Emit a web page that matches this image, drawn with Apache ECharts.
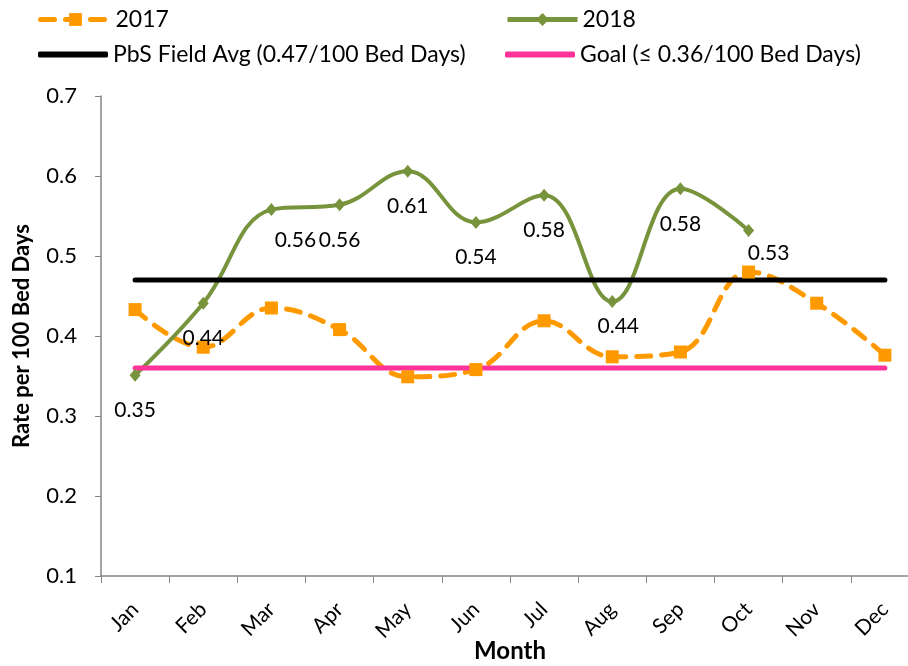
<!DOCTYPE html>
<html>
<head>
<meta charset="utf-8">
<title>Rate per 100 Bed Days</title>
<script src="https://cdn.jsdelivr.net/npm/echarts@6/dist/echarts.min.js"></script>
<style>
  html, body { margin: 0; padding: 0; background: #fff; }
  #chart { width: 908px; height: 666px; }
</style>
</head>
<body>
<div id="chart"></div>
<script>
const months = ['Jan', 'Feb', 'Mar', 'Apr', 'May', 'Jun', 'Jul', 'Aug', 'Sep', 'Oct', 'Nov', 'Dec']
const rate2017 = [0.433, 0.386, 0.435, 0.408, 0.349, 0.358, 0.419, 0.374, 0.38, 0.48, 0.441, 0.376]
const rate2018 = [0.351, 0.441, 0.558, 0.564, 0.606, 0.542, 0.576, 0.443, 0.584, 0.532]
const fieldAvg = 0.47
const goal = 0.36
const yTicks = [0.1, 0.2, 0.3, 0.4, 0.5, 0.6, 0.7]

// label nudges for the 2018 values (Excel placed a few by hand)
const labelNudge = [[0, 0], [0, 0], [24, -4], [0, 0], [0, 0], [0, 0], [0, 0], [6, -10], [0, 0], [20, -12]]

const FONT = 'Lato'
const chart = echarts.init(document.getElementById('chart'))

const legendBase = {
  itemWidth: 70,
  itemHeight: 16,
  itemGap: 6,
  lineStyle: { width: 5 },
  textStyle: { fontFamily: FONT, fontSize: 23, color: '#000' }
}

const option = {
  animation: false,
  textStyle: { fontFamily: FONT },
  legend: [
    { ...legendBase, data: ['2017'], left: 33, top: 3 },
    { ...legendBase, data: ['2018'], left: 500, top: 3 },
    { ...legendBase, data: [{ name: 'PbS Field Avg (0.47/100 Bed Days)', icon: 'roundRect' }], itemHeight: 6, left: 33, top: 38 },
    { ...legendBase, data: [{ name: 'Goal (≤ 0.36/100 Bed Days)', icon: 'roundRect' }], itemHeight: 6, left: 500, top: 38 }
  ],
  grid: { left: 101, top: 96, width: 818, height: 480, outerBoundsMode: 'none' },
  xAxis: {
    type: 'category',
    data: months,
    boundaryGap: true,
    name: 'Month',
    nameLocation: 'middle',
    nameGap: 63,
    nameMoveOverlap: false,
    nameTextStyle: { fontFamily: FONT, fontSize: 24, fontWeight: 'bold', color: '#000' },
    axisLine: { lineStyle: { color: '#868686', width: 1.5 } },
    axisTick: { show: true, length: 7, lineStyle: { color: '#868686' } },
    axisLabel: {
      rotate: 45,
      margin: 30,
      fontFamily: FONT,
      fontSize: 21,
      color: '#000'
    },
    splitLine: { show: false }
  },
  yAxis: {
    type: 'value',
    min: yTicks[0],
    max: yTicks[yTicks.length - 1],
    interval: 0.1,
    name: 'Rate per 100 Bed Days',
    nameLocation: 'middle',
    nameGap: 68,
    nameMoveOverlap: false,
    nameTextStyle: { fontFamily: FONT, fontSize: 22, fontWeight: 'bold', color: '#000' },
    axisLine: { show: true, lineStyle: { color: '#868686', width: 1.5 } },
    axisTick: { show: true, length: 6, lineStyle: { color: '#868686' } },
    axisLabel: {
      margin: 24,
      fontFamily: FONT,
      fontSize: 22,
      color: '#000',
      formatter: v => v.toFixed(1)
    },
    splitLine: { show: false }
  },
  series: [
    {
      name: '2017',
      type: 'line',
      data: rate2017,
      smooth: 0.4,
      symbol: 'rect',
      symbolSize: 13,
      itemStyle: { color: '#FF9900' },
      lineStyle: { color: '#FF9900', width: 5, type: [14, 11], cap: 'round' }
    },
    {
      name: '2018',
      type: 'line',
      data: rate2018,
      smooth: 0.4,
      symbol: 'diamond',
      symbolSize: [11, 13],
      itemStyle: { color: '#77933C' },
      lineStyle: { color: '#77933C', width: 4 },
      label: {
        show: true,
        position: 'bottom',
        distance: 18,
        fontFamily: FONT,
        fontSize: 21,
        color: '#000',
        formatter: p => p.value.toFixed(2)
      },
      labelLayout: p => {
        const n = labelNudge[p.dataIndex] || [0, 0]
        return { dx: n[0], dy: n[1] }
      }
    },
    {
      name: 'PbS Field Avg (0.47/100 Bed Days)',
      type: 'line',
      data: months.map(() => fieldAvg),
      symbol: 'none',
      itemStyle: { color: '#000' },
      lineStyle: { color: '#000', width: 5, cap: 'round' }
    },
    {
      name: 'Goal (≤ 0.36/100 Bed Days)',
      type: 'line',
      data: months.map(() => goal),
      symbol: 'none',
      itemStyle: { color: '#FF3399' },
      lineStyle: { color: '#FF3399', width: 5, cap: 'round' }
    }
  ]
}

chart.setOption(option)
</script>
</body>
</html>
